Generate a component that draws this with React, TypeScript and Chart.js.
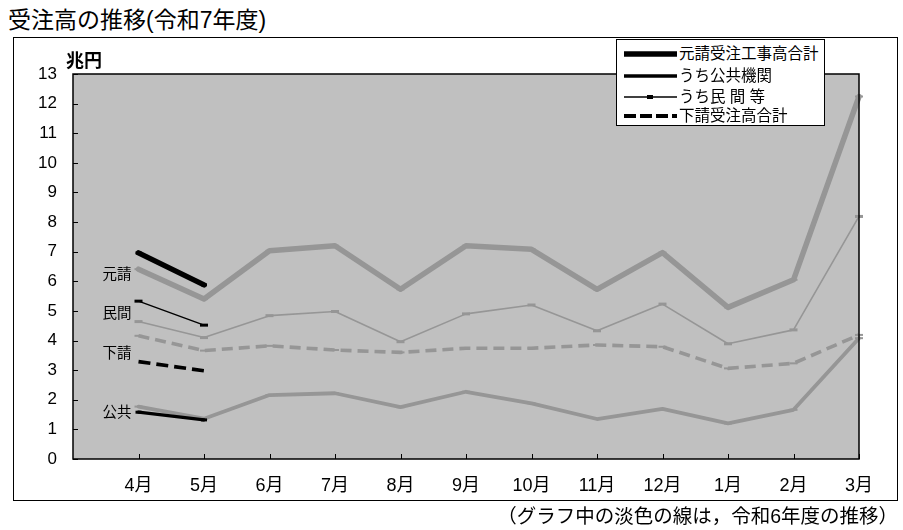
import React, { useEffect, useRef } from 'react';
import { Chart, registerables } from 'chart.js';

Chart.register(...registerables);

// ---- data ----
const months = ['', '4月', '5月', '6月', '7月', '8月', '9月', '10月', '11月', '12月', '1月', '2月', '3月'];
const yMin = 0;
const yMax = 13;

// 令和7年度 (current, black)
const motoukeCur = [null, 6.96, 5.88, null, null, null, null, null, null, null, null, null, null];
const koukyouCur = [null, 1.58, 1.32, null, null, null, null, null, null, null, null, null, null];
const minkanCur = [null, 5.33, 4.52, null, null, null, null, null, null, null, null, null, null];
const shitaukeCur = [null, 3.29, 2.98, null, null, null, null, null, null, null, null, null, null];

// 令和6年度 (previous, pale)
const motoukePrev = [null, 6.41, 5.40, 7.03, 7.20, 5.73, 7.20, 7.08, 5.73, 6.97, 5.12, 6.05, 12.24];
const koukyouPrev = [null, 1.77, 1.36, 2.16, 2.22, 1.75, 2.27, 1.88, 1.35, 1.69, 1.20, 1.66, 4.08];
const minkanPrev = [null, 4.64, 4.10, 4.84, 4.98, 3.96, 4.90, 5.20, 4.33, 5.23, 3.89, 4.36, 8.19];
const shitaukePrev = [null, 4.16, 3.66, 3.82, 3.68, 3.60, 3.74, 3.74, 3.85, 3.79, 3.06, 3.23, 4.19];

// side labels (text, y-value where they sit)
const sideLabels = ['元請', '民間', '下請', '公共'];
const sideLabelValues = [6.21, 4.9, 3.55, 1.55];

const legendLabels = ['元請受注工事高合計', 'うち公共機関', 'うち民 間 等', '下請受注高合計'];

const FONT = '"Liberation Sans", "Noto Sans CJK JP", sans-serif';
const GRAY = 'rgb(150,150,150)';
const PLOT_BG = '#c0c0c0';

const framePlugin = {
  id: 'framePlugin',
  beforeDraw(chart: any) {
    const { ctx, chartArea } = chart;
    ctx.save();
    ctx.fillStyle = PLOT_BG;
    ctx.fillRect(chartArea.left, chartArea.top, chartArea.right - chartArea.left, chartArea.bottom - chartArea.top);
    ctx.restore();
  },
  afterDatasetsDraw(chart: any) {
    const { ctx, chartArea } = chart;
    const ys = chart.scales.y;
    const xs = chart.scales.x;
    ctx.save();
    ctx.strokeStyle = '#000';
    ctx.lineWidth = 1.5;
    ctx.strokeRect(chartArea.left, chartArea.top, chartArea.right - chartArea.left, chartArea.bottom - chartArea.top);
    ctx.lineWidth = 1;
    ctx.beginPath();
    for (let v = yMin; v <= yMax; v++) {
      const y = Math.round(ys.getPixelForValue(v)) + 0.5;
      ctx.moveTo(chartArea.left, y);
      ctx.lineTo(chartArea.left + 5, y);
    }
    for (let i = 1; i < months.length; i++) {
      const x = Math.round(xs.getPixelForValue(i)) + 0.5;
      ctx.moveTo(x, chartArea.bottom);
      ctx.lineTo(x, chartArea.bottom - 5);
    }
    ctx.stroke();
    ctx.fillStyle = '#000';
    ctx.font = '14.5px ' + FONT;
    ctx.textAlign = 'right';
    ctx.textBaseline = 'middle';
    sideLabels.forEach((t, i) => {
      ctx.fillText(t, xs.getPixelForValue(1) - 7, ys.getPixelForValue(sideLabelValues[i]));
    });
    ctx.restore();
  },
};

function ds(label: string, data: (number | null)[], color: string, width: number, dash: number[] = [], pr = 4, pbw = 3) {
  return {
    label,
    data,
    borderColor: color,
    backgroundColor: color,
    borderWidth: width,
    borderDash: dash,
    borderJoinStyle: 'round' as const,
    borderCapStyle: dash.length ? ('butt' as const) : ('round' as const),
    pointStyle: 'line' as const,
    pointRadius: pr,
    pointBorderWidth: pbw,
    pointBorderColor: color,
    pointHoverRadius: pr,
    tension: 0,
    spanGaps: false,
    fill: false,
  };
}

export default function App() {
  const canvasRef = useRef<HTMLCanvasElement | null>(null);

  useEffect(() => {
    if (!canvasRef.current) return;
    const chart = new Chart(canvasRef.current, {
      type: 'line',
      data: {
        labels: months,
        datasets: [
          ds('元請受注工事高合計', motoukeCur, '#000', 5.5, [], 3, 3),
          ds('うち公共機関', koukyouCur, '#000', 3.3, [], 3, 3),
          ds('うち民間等', minkanCur, '#000', 1.4, [], 4, 3),
          ds('下請受注高合計', shitaukeCur, '#000', 3.7, [12, 6], 0, 0),
          ds('元請(前年度)', motoukePrev, GRAY, 5.5, [], 4, 2),
          ds('公共(前年度)', koukyouPrev, GRAY, 3.8, [], 4, 2),
          ds('民間(前年度)', minkanPrev, GRAY, 1.6, [], 4, 3),
          ds('下請(前年度)', shitaukePrev, GRAY, 3.6, [11, 6], 4, 2),
        ] as any,
      },
      options: {
        responsive: false,
        animation: false,
        devicePixelRatio: 1,
        layout: { padding: { left: 0, top: 74, right: 44, bottom: 30 } },
        plugins: {
          legend: { display: false },
          tooltip: { enabled: false },
          title: { display: false },
        },
        scales: {
          x: {
            type: 'category',
            offset: false,
            grid: { display: false, drawTicks: false },
            border: { display: false },
            ticks: {
              color: '#000',
              font: { family: FONT, size: 18 },
              padding: 16,
              maxRotation: 0,
              autoSkip: false,
            },
            afterFit: (s: any) => { s.height = 41; },
          },
          y: {
            min: yMin,
            max: yMax,
            grid: { display: false, drawTicks: false },
            border: { display: false },
            ticks: {
              stepSize: 1,
              color: '#000',
              font: { family: FONT, size: 17 },
              padding: 16,
            },
            afterFit: (s: any) => { s.width = 73; },
          },
        },
      },
      plugins: [framePlugin],
    } as any);
    return () => chart.destroy();
  }, []);

  const legendRows = [
    { w: 5.5, dash: '', marker: false },
    { w: 3.5, dash: '', marker: false },
    { w: 1.4, dash: '', marker: true },
    { w: 4, dash: '12 4', marker: false },
  ];
  const rowY = [53, 75, 96, 115];

  return (
    <div style={{ position: 'fixed', left: 0, top: 0, width: 903, height: 530, background: '#fff', fontFamily: FONT, color: '#000', overflow: 'hidden' }}>
      <div style={{ position: 'absolute', left: 8, top: 1, fontSize: 23, whiteSpace: 'nowrap' }}>受注高の推移(令和7年度)</div>
      <div style={{ position: 'absolute', left: 13, top: 37, width: 883, height: 462, border: '1px solid #000' }} />
      <canvas ref={canvasRef} width={903} height={530} style={{ position: 'absolute', left: 0, top: 0, width: 903, height: 530 }} />
      <div style={{ position: 'absolute', left: 66, top: 46, fontSize: 18, fontWeight: 'bold' }}>兆円</div>
      <div style={{ position: 'absolute', left: 616, top: 39, width: 207, height: 85, border: '1px solid #000', background: '#fff' }}>
        <svg width={207} height={85} style={{ position: 'absolute', left: 0, top: 0 }}>
          {legendRows.map((r, i) => (
            <g key={i}>
              <line x1={7} x2={60} y1={rowY[i] - 39} y2={rowY[i] - 39} stroke="#000" strokeWidth={r.w} strokeDasharray={r.dash || undefined} />
              {r.marker ? <rect x={30} y={rowY[i] - 39 - 2} width={6} height={4} fill="#000" /> : null}
            </g>
          ))}
        </svg>
        {legendLabels.map((t, i) => (
          <div key={t} style={{ position: 'absolute', left: 62, top: rowY[i] - 39 - 11, fontSize: 15.5, lineHeight: '22px', whiteSpace: 'pre' }}>{t}</div>
        ))}
      </div>
      <div style={{ position: 'absolute', right: 5, top: 500, fontSize: 19.5, whiteSpace: 'nowrap' }}>（グラフ中の淡色の線は，令和6年度の推移）</div>
    </div>
  );
}
